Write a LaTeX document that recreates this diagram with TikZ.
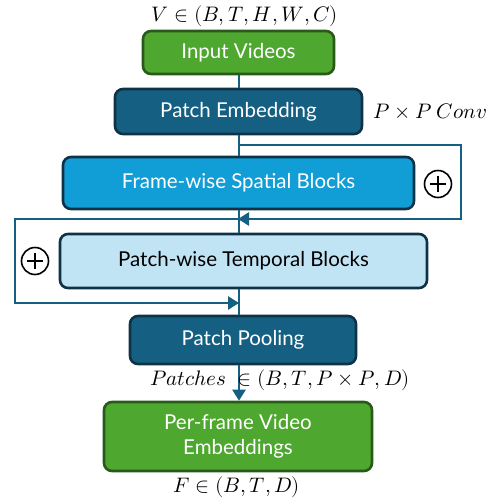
\documentclass[tikz,border=0pt]{standalone}
\usepackage{fontspec}
\usepackage{unicode-math}
\setmainfont{Lato}
\setmathfont{Latin Modern Math}
\usetikzlibrary{arrows.meta}
\definecolor{leaf}{HTML}{4EA72E}
\definecolor{leafedge}{HTML}{2A5A1A}
\definecolor{deepblue}{HTML}{156082}
\definecolor{midblue}{HTML}{119DD5}
\definecolor{paleblue}{HTML}{C1E4F5}
\definecolor{edgeblue}{HTML}{0E3346}
\begin{document}
\begin{tikzpicture}[x=1pt,y=-1pt,
  block/.style={draw, line width=2.6pt, rounded corners=8pt, align=center,
    inner sep=0pt, font=\fontsize{20.5}{25}\selectfont},
  greenblock/.style={block, fill=leaf, draw=leafedge, text=white},
  darkblock/.style={block, fill=deepblue, draw=edgeblue, text=white},
  midblock/.style={block, fill=midblue, draw=edgeblue, text=white},
  paleblock/.style={block, fill=paleblue, draw=edgeblue, text=black},
  wire/.style={draw=deepblue, line width=2.6pt},
  arr/.style={wire, -{Triangle[length=11pt,width=13pt]}},
  addsym/.style={circle, draw=black, line width=1.6pt, minimum size=27pt, inner sep=0pt},
  lbl/.style={font=\fontsize{21}{24}\selectfont, inner sep=0pt}
]
\useasboundingbox (0,0) rectangle (489,499);

% main pipeline
\node[greenblock, minimum width=191pt, minimum height=43pt] (in) at (238.5,52.5) {Input Videos};
\node[darkblock, minimum width=247pt, minimum height=45pt] (pe) at (238.5,111.5) {Patch Embedding};
\node[midblock, minimum width=351pt, minimum height=52pt] (fs) at (238.5,183) {Frame-wise Spatial Blocks};
\node[paleblock, minimum width=367pt, minimum height=54pt] (pt) at (243.5,261) {Patch-wise Temporal Blocks};
\node[darkblock, minimum width=226pt, minimum height=48pt] (pp) at (243,340) {Patch Pooling};
\node[greenblock, minimum width=268pt, minimum height=69pt] (out) at (238,436.5) {Per-frame Video\\[0pt]Embeddings};

% residual junctions
\coordinate (s1) at (239,145);
\coordinate (r1a) at (461,145);
\coordinate (r1b) at (461,219);
\coordinate (j1) at (239,219);
\coordinate (l2a) at (15,219);
\coordinate (l2b) at (15,303);
\coordinate (j2) at (239,303);

% spine
\draw[wire] (in.south -| s1) -- (pe.north -| s1);
\draw[wire] (pe.south -| s1) -- (fs.north -| s1);
\draw[wire] (fs.south -| s1) -- (pt.north -| s1);
\draw[wire] (pt.south -| s1) -- (pp.north -| s1);
\draw[arr] (pp.south -| s1) -- (out.north -| s1);

% skip around the spatial blocks
\draw[wire] (s1) -- (r1a) -- (r1b) -- ([xshift=8pt]j1);
\draw[arr] (r1b) -- ([xshift=-1pt]j1);
% skip around the temporal blocks
\draw[wire] (j1) -- (l2a) -- (l2b) -- (j2);
\draw[arr] (l2b) -- (j2);

% addition symbols
\node[addsym] (add1) at (438,184) {};
\draw[line width=1.6pt] ([xshift=-8pt]add1.center) -- ([xshift=8pt]add1.center)
  ([yshift=-8pt]add1.center) -- ([yshift=8pt]add1.center);
\node[addsym] (add2) at (35,261) {};
\draw[line width=1.6pt] ([xshift=-8pt]add2.center) -- ([xshift=8pt]add2.center)
  ([yshift=-8pt]add2.center) -- ([yshift=8pt]add2.center);

% tensor shapes
\node[lbl] (vshape) at (245,16) {$V \in (B,T,H,W,C)$};
\node[lbl] (conv) at (430,111) {$P \times P\ \symit{Conv}$};
\node[lbl] (pshape) at (280,380) {$\symit{Patches}\ \in (B,T,P\times P,D)$};
\node[lbl] (fshape) at (237,487) {$F \in (B,T,D)$};
\end{tikzpicture}
\end{document}
